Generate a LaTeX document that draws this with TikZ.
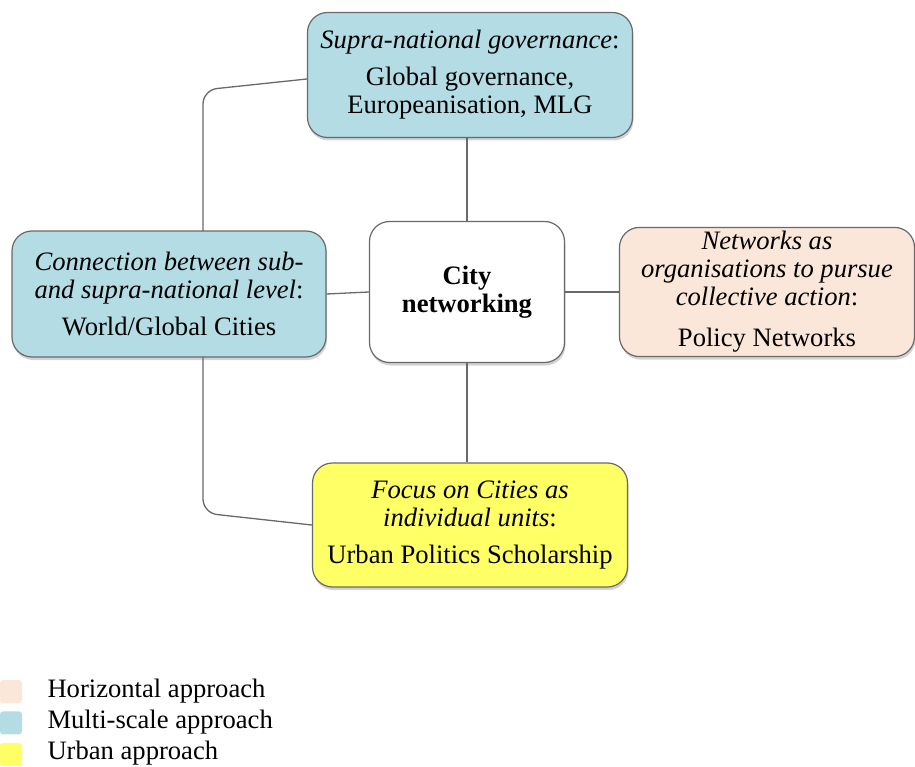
\documentclass[tikz,border=0pt]{standalone}
\usepackage{fontspec}
\setmainfont{Liberation Serif}[Ligatures=TeX]
\usetikzlibrary{positioning,shadows}
\definecolor{multiblue}{RGB}{180,220,228}
\definecolor{horizpeach}{RGB}{251,231,217}
\definecolor{urbanyellow}{RGB}{255,255,102}
\definecolor{edgegray}{RGB}{105,105,105}

\begin{document}
\begin{tikzpicture}[x=1pt,y=-1pt,font=\rmfamily\fontsize{26.6}{28}\selectfont,
  approach/.style={draw=edgegray,line width=1.2pt,rounded corners=20pt,align=center,inner sep=4pt,
    drop shadow={shadow xshift=1pt,shadow yshift=-3pt,opacity=0.35}},
  link/.style={edgegray,line width=1.3pt},
  swatch/.style={rounded corners=3pt,minimum width=22pt,minimum height=23pt,inner sep=0pt}]
\useasboundingbox (0,0) rectangle (915,767);
\clip (0,0) rectangle (915,767);
\node[approach,fill=white,minimum width=195pt,minimum height=141pt] (city) at (467,292)
  {\textbf{City}\\\textbf{networking}};
\node[approach,fill=multiblue,minimum width=325pt,minimum height=125pt] (supra) at (470,75)
  {\textit{Supra-national governance}:\\[9pt]Global governance,\\Europeanisation, MLG};
\node[approach,fill=multiblue,minimum width=314pt,minimum height=126pt] (world) at (169,294)
  {\textit{Connection between sub-}\\\textit{and supra-national level}:\\[9pt]World/Global Cities};
\node[approach,fill=horizpeach,minimum width=295pt,minimum height=125pt] (policy) at (767,292)
  {\textit{Networks as}\\\textit{organisations to pursue}\\\textit{collective action}:\\[13pt]Policy Networks};
\node[approach,fill=urbanyellow,minimum width=315pt,minimum height=124pt] (urban) at (470,525)
  {\textit{Focus on Cities as}\\\textit{individual units}:\\[9pt]Urban Politics Scholarship};
% connectors
\coordinate (wtop) at (203,231);
\coordinate (wbot) at (203,357);
\draw[link] (supra.south -| city.north) -- (city.north);
\draw[link] (city.south) -- (city.south |- urban.north);
\draw[link] (world.east) -- (city.west);
\draw[link] (city.east) -- (policy.west);
\draw[link,rounded corners=14pt] ([yshift=-4pt]supra.west) -- (203,90) -- (wtop);
\draw[link,rounded corners=14pt] (wbot) -- (203,513) -- (urban.west);
% legend
\node[swatch,fill=horizpeach] (keyh) at (11,691.5) {};
\node[swatch,fill=multiblue,below=8pt of keyh] (keym) {};
\node[swatch,fill=urbanyellow,below=8pt of keym] (keyu) {};
\node[anchor=west,font=\rmfamily\fontsize{26.6}{28}\selectfont] at (44,691) {Horizontal approach};
\node[anchor=west,font=\rmfamily\fontsize{26.6}{28}\selectfont] at (44,722) {Multi-scale approach};
\node[anchor=west,font=\rmfamily\fontsize{26.6}{28}\selectfont] at (44,753) {Urban approach};
\end{tikzpicture}
\end{document}
